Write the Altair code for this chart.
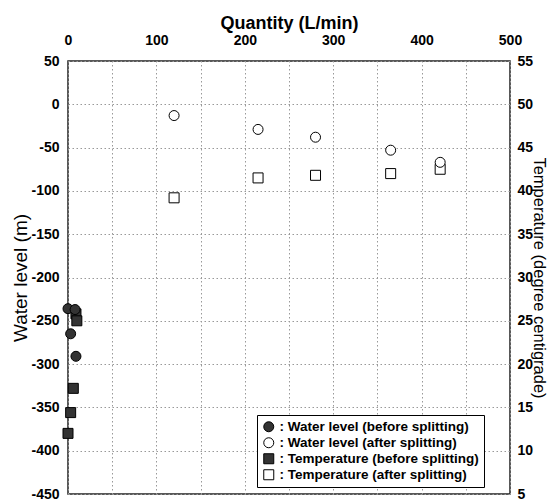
import altair as alt
import pandas as pd

# ---- data ----
series = [
    "Water level (before splitting)",
    "Water level (after splitting)",
    "Temperature (before splitting)",
    "Temperature (after splitting)",
]

q_wl_before = [0, 8, 3, 9]
wl_before = [-236, -237, -265, -291]

q_t_before = [9, 10, 6, 3, 0]
t_before = [25.8, 25.0, 17.2, 14.4, 12.0]

q_after = [120, 215, 280, 365, 421]
wl_after = [-13, -29, -38, -53, -67]
t_after = [39.2, 41.5, 41.8, 42.0, 42.5]

x_ticks = list(range(0, 501, 50))
wl_ticks = list(range(-450, 51, 50))
t_ticks = list(range(5, 56, 5))

wl_df = pd.DataFrame({
    "q": q_wl_before + q_after,
    "v": wl_before + wl_after,
    "series": [series[0]] * len(q_wl_before) + [series[1]] * len(q_after),
})
t_df = pd.DataFrame({
    "q": q_t_before + q_after,
    "v": t_before + t_after,
    "series": [series[2]] * len(q_t_before) + [series[3]] * len(q_after),
})

FONT = "Liberation Sans"

shape_scale = alt.Scale(domain=series, range=["circle", "circle", "square", "square"])
fill_scale = alt.Scale(domain=series, range=["#333333", "#ffffff", "#333333", "#ffffff"])
stroke_scale = alt.Scale(domain=series, range=["#000000", "#000000", "#000000", "#000000"])

legend = alt.Legend(
    title=None, orient="none", legendX=189, legendY=354,
    padding=5, strokeColor="black", fillColor="white",
    labelFont=FONT, labelFontSize=13.5, labelFontWeight="bold", labelColor="black",
    labelExpr="': ' + datum.label", labelLimit=400, labelOffset=4,
    symbolSize=100, symbolStrokeColor="black", symbolStrokeWidth=1,
    symbolOpacity=1, rowPadding=1, columnPadding=0,
)

x_enc = alt.X(
    "q:Q",
    scale=alt.Scale(domain=[0, 500], nice=False, zero=False),
    axis=alt.Axis(
        orient="top", title="Quantity (L/min)", values=x_ticks,
        labelExpr="datum.value % 100 == 0 ? '' + datum.value : ''",
        grid=True, ticks=False, labelFlush=False, labelOverlap=False,
        labelPadding=14, titlePadding=1,
        titleFontSize=18, titleFontWeight="bold",
        labelFontSize=14, labelFontWeight="bold",
    ),
)

point_kw = dict(filled=True, size=100, strokeWidth=1, opacity=1)

temp = alt.Chart(t_df).mark_point(**point_kw).encode(
    x=x_enc,
    y=alt.Y(
        "v:Q",
        scale=alt.Scale(domain=[5, 55], nice=False, zero=False),
        axis=alt.Axis(
            orient="right", title="Temperature (degree centigrade)", values=t_ticks,
            labelExpr="'' + datum.value", grid=False, ticks=False,
            labelPadding=7, titlePadding=-2,
            titleFontSize=16.5, titleFontWeight="normal",
            labelFontSize=14, labelFontWeight="bold",
        ),
    ),
    shape=alt.Shape("series:N", scale=shape_scale, legend=legend),
    fill=alt.Fill("series:N", scale=fill_scale, legend=legend),
    stroke=alt.Stroke("series:N", scale=stroke_scale, legend=legend),
)

wl = alt.Chart(wl_df).mark_point(**point_kw).encode(
    x=x_enc,
    y=alt.Y(
        "v:Q",
        scale=alt.Scale(domain=[-450, 50], nice=False, zero=False),
        axis=alt.Axis(
            orient="left", title="Water level (m)", values=wl_ticks,
            labelExpr="'' + datum.value", grid=True, ticks=False,
            labelPadding=9, titlePadding=0,
            titleFontSize=19, titleFontWeight="normal",
            labelFontSize=14, labelFontWeight="bold",
        ),
    ),
    shape=alt.Shape("series:N", scale=shape_scale, legend=legend),
    fill=alt.Fill("series:N", scale=fill_scale, legend=legend),
    stroke=alt.Stroke("series:N", scale=stroke_scale, legend=legend),
)

chart = (
    alt.layer(temp, wl)
    .resolve_scale(y="independent")
    .properties(
        width=442, height=433,
        padding={"left": 60, "top": 53, "right": 38, "bottom": 8},
        autosize=alt.AutoSizeParams(type="none"),
        background="white",
    )
    .configure_view(stroke="#222222", strokeWidth=1.5)
    .configure_axis(
        domain=False, gridColor="#999999", gridDash=[1.5, 2.5], gridWidth=1,
        labelFont=FONT, titleFont=FONT, labelColor="black", titleColor="black",
    )
    .configure_legend(strokeWidth=1)
)

chart.save("out.html", embed_options={"renderer": "svg", "actions": False})
